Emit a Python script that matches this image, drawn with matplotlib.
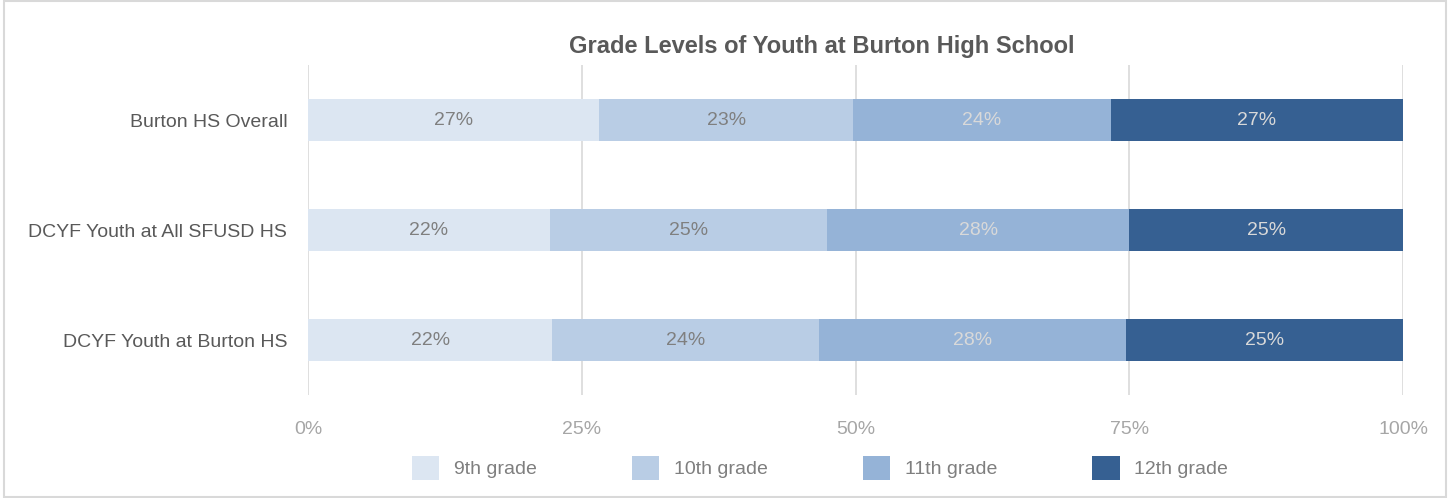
import matplotlib.pyplot as plt
import numpy as np

plt.rcParams['font.family'] = ['Liberation Sans', 'DejaVu Sans']

groups = ['Burton HS Overall', 'DCYF Youth at All SFUSD HS', 'DCYF Youth at Burton HS']
grades = ['9th grade', '10th grade', '11th grade', '12th grade']
g9 = [26.6, 22.1, 22.3]
g10 = [23.2, 25.3, 24.4]
g11 = [23.5, 27.6, 28.0]
g12 = [26.7, 25.0, 25.3]
colors = ['#DCE6F2', '#B9CDE5', '#95B3D7', '#366092']
text_colors = ['#7F7F7F', '#7F7F7F', '#D9D9D9', '#D9D9D9']

fig = plt.figure(figsize=(14.5, 4.98), dpi=100)
ax = fig.add_axes([308/1450, 1-395/498, 1095/1450, 330/498])

y = np.arange(len(groups))
left = np.zeros(len(groups))
for vals, c, tc, lab in zip([g9, g10, g11, g12], colors, text_colors, grades):
    vals = np.array(vals)
    ax.barh(y, vals, left=left, height=0.39, color=c, label=lab, zorder=2)
    for yi, l, v in zip(y, left, vals):
        ax.text(l + v/2, yi, f'{v:.0f}%', ha='center', va='center', color=tc, fontsize=14)
    left += vals

ax.set_xlim(0, 100)
ax.set_ylim(2.5, -0.5)
ax.set_xticks([0, 25, 50, 75, 100])
ax.set_xticklabels(['0%', '25%', '50%', '75%', '100%'], color='#A6A6A6', fontsize=14)
ax.set_yticks(y)
ax.set_yticklabels(groups, color='#595959', fontsize=14)
ax.tick_params(length=0)
ax.tick_params(axis='x', pad=19)
ax.tick_params(axis='y', pad=15)
ax.grid(axis='x', color='#D9D9D9', linewidth=1.2, zorder=0)
for s in ax.spines.values():
    s.set_visible(False)

fig.text(822/1450, 1-46/498, 'Grade Levels of Youth at Burton High School', fontsize=17,
         fontweight='bold', color='#595959', ha='center', va='center')
fig.legend(*ax.get_legend_handles_labels(), loc='center', bbox_to_anchor=(820/1450, 1-468/498),
           ncol=4, frameon=False, fontsize=14, labelcolor='#7F7F7F', handlelength=1.4,
           handleheight=1.45, columnspacing=4.9, handletextpad=0.75)

fig.patches.append(plt.Rectangle((0.003, 0.003), 0.994, 0.994, transform=fig.transFigure,
                                 fill=False, edgecolor='#D9D9D9', linewidth=1.5))

fig.savefig('out.png', dpi=100)
